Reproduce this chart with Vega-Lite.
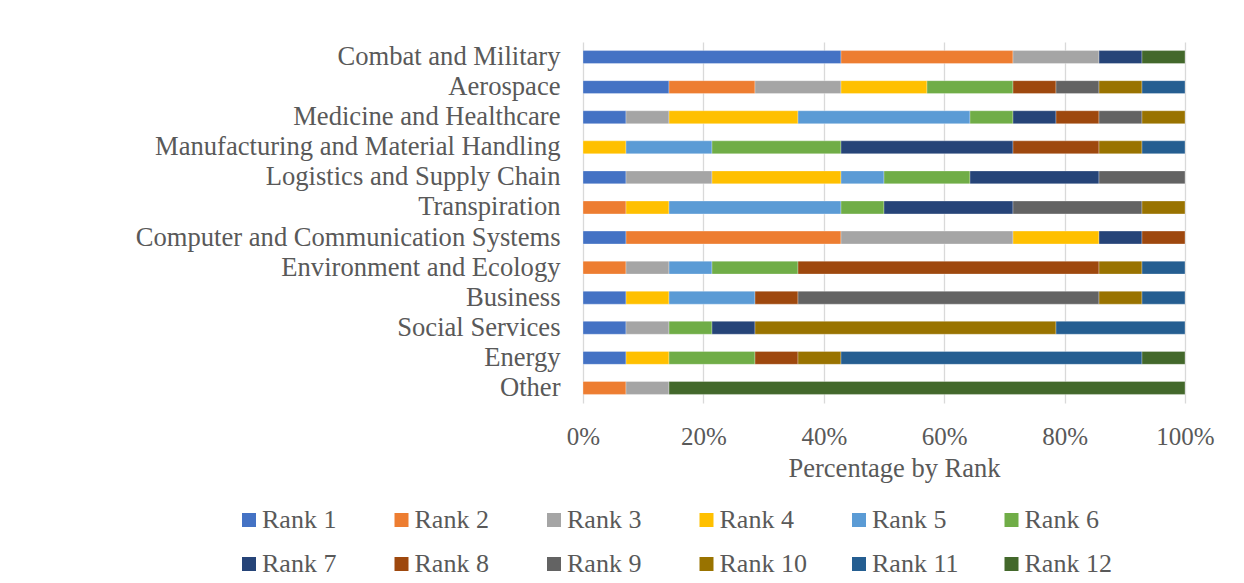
{
  "$schema": "https://vega.github.io/schema/vega-lite/v6.json",
  "width": 602,
  "height": 361,
  "autosize": {"type": "none"},
  "padding": {"left": 583, "top": 42, "right": 59, "bottom": 180},
  "background": "white",
  "config": {
    "font": "Liberation Serif",
    "view": {"stroke": null},
    "axis": {"labelFont": "Liberation Serif", "titleFont": "Liberation Serif"}
  },
  "data": {
    "values": [
      {"c": "Combat and Military", "k": "Rank 1", "r": 1, "n": 6},
      {"c": "Combat and Military", "k": "Rank 2", "r": 2, "n": 4},
      {"c": "Combat and Military", "k": "Rank 3", "r": 3, "n": 2},
      {"c": "Combat and Military", "k": "Rank 7", "r": 7, "n": 1},
      {"c": "Combat and Military", "k": "Rank 12", "r": 12, "n": 1},
      {"c": "Aerospace", "k": "Rank 1", "r": 1, "n": 2},
      {"c": "Aerospace", "k": "Rank 2", "r": 2, "n": 2},
      {"c": "Aerospace", "k": "Rank 3", "r": 3, "n": 2},
      {"c": "Aerospace", "k": "Rank 4", "r": 4, "n": 2},
      {"c": "Aerospace", "k": "Rank 6", "r": 6, "n": 2},
      {"c": "Aerospace", "k": "Rank 8", "r": 8, "n": 1},
      {"c": "Aerospace", "k": "Rank 9", "r": 9, "n": 1},
      {"c": "Aerospace", "k": "Rank 10", "r": 10, "n": 1},
      {"c": "Aerospace", "k": "Rank 11", "r": 11, "n": 1},
      {"c": "Medicine and Healthcare", "k": "Rank 1", "r": 1, "n": 1},
      {"c": "Medicine and Healthcare", "k": "Rank 3", "r": 3, "n": 1},
      {"c": "Medicine and Healthcare", "k": "Rank 4", "r": 4, "n": 3},
      {"c": "Medicine and Healthcare", "k": "Rank 5", "r": 5, "n": 4},
      {"c": "Medicine and Healthcare", "k": "Rank 6", "r": 6, "n": 1},
      {"c": "Medicine and Healthcare", "k": "Rank 7", "r": 7, "n": 1},
      {"c": "Medicine and Healthcare", "k": "Rank 8", "r": 8, "n": 1},
      {"c": "Medicine and Healthcare", "k": "Rank 9", "r": 9, "n": 1},
      {"c": "Medicine and Healthcare", "k": "Rank 10", "r": 10, "n": 1},
      {"c": "Manufacturing and Material Handling", "k": "Rank 4", "r": 4, "n": 1},
      {"c": "Manufacturing and Material Handling", "k": "Rank 5", "r": 5, "n": 2},
      {"c": "Manufacturing and Material Handling", "k": "Rank 6", "r": 6, "n": 3},
      {"c": "Manufacturing and Material Handling", "k": "Rank 7", "r": 7, "n": 4},
      {"c": "Manufacturing and Material Handling", "k": "Rank 8", "r": 8, "n": 2},
      {"c": "Manufacturing and Material Handling", "k": "Rank 10", "r": 10, "n": 1},
      {"c": "Manufacturing and Material Handling", "k": "Rank 11", "r": 11, "n": 1},
      {"c": "Logistics and Supply Chain", "k": "Rank 1", "r": 1, "n": 1},
      {"c": "Logistics and Supply Chain", "k": "Rank 3", "r": 3, "n": 2},
      {"c": "Logistics and Supply Chain", "k": "Rank 4", "r": 4, "n": 3},
      {"c": "Logistics and Supply Chain", "k": "Rank 5", "r": 5, "n": 1},
      {"c": "Logistics and Supply Chain", "k": "Rank 6", "r": 6, "n": 2},
      {"c": "Logistics and Supply Chain", "k": "Rank 7", "r": 7, "n": 3},
      {"c": "Logistics and Supply Chain", "k": "Rank 9", "r": 9, "n": 2},
      {"c": "Transpiration", "k": "Rank 2", "r": 2, "n": 1},
      {"c": "Transpiration", "k": "Rank 4", "r": 4, "n": 1},
      {"c": "Transpiration", "k": "Rank 5", "r": 5, "n": 4},
      {"c": "Transpiration", "k": "Rank 6", "r": 6, "n": 1},
      {"c": "Transpiration", "k": "Rank 7", "r": 7, "n": 3},
      {"c": "Transpiration", "k": "Rank 9", "r": 9, "n": 3},
      {"c": "Transpiration", "k": "Rank 10", "r": 10, "n": 1},
      {"c": "Computer and Communication Systems", "k": "Rank 1", "r": 1, "n": 1},
      {"c": "Computer and Communication Systems", "k": "Rank 2", "r": 2, "n": 5},
      {"c": "Computer and Communication Systems", "k": "Rank 3", "r": 3, "n": 4},
      {"c": "Computer and Communication Systems", "k": "Rank 4", "r": 4, "n": 2},
      {"c": "Computer and Communication Systems", "k": "Rank 7", "r": 7, "n": 1},
      {"c": "Computer and Communication Systems", "k": "Rank 8", "r": 8, "n": 1},
      {"c": "Environment and Ecology", "k": "Rank 2", "r": 2, "n": 1},
      {"c": "Environment and Ecology", "k": "Rank 3", "r": 3, "n": 1},
      {"c": "Environment and Ecology", "k": "Rank 5", "r": 5, "n": 1},
      {"c": "Environment and Ecology", "k": "Rank 6", "r": 6, "n": 2},
      {"c": "Environment and Ecology", "k": "Rank 8", "r": 8, "n": 7},
      {"c": "Environment and Ecology", "k": "Rank 10", "r": 10, "n": 1},
      {"c": "Environment and Ecology", "k": "Rank 11", "r": 11, "n": 1},
      {"c": "Business", "k": "Rank 1", "r": 1, "n": 1},
      {"c": "Business", "k": "Rank 4", "r": 4, "n": 1},
      {"c": "Business", "k": "Rank 5", "r": 5, "n": 2},
      {"c": "Business", "k": "Rank 8", "r": 8, "n": 1},
      {"c": "Business", "k": "Rank 9", "r": 9, "n": 7},
      {"c": "Business", "k": "Rank 10", "r": 10, "n": 1},
      {"c": "Business", "k": "Rank 11", "r": 11, "n": 1},
      {"c": "Social Services", "k": "Rank 1", "r": 1, "n": 1},
      {"c": "Social Services", "k": "Rank 3", "r": 3, "n": 1},
      {"c": "Social Services", "k": "Rank 6", "r": 6, "n": 1},
      {"c": "Social Services", "k": "Rank 7", "r": 7, "n": 1},
      {"c": "Social Services", "k": "Rank 10", "r": 10, "n": 7},
      {"c": "Social Services", "k": "Rank 11", "r": 11, "n": 3},
      {"c": "Energy", "k": "Rank 1", "r": 1, "n": 1},
      {"c": "Energy", "k": "Rank 4", "r": 4, "n": 1},
      {"c": "Energy", "k": "Rank 6", "r": 6, "n": 2},
      {"c": "Energy", "k": "Rank 8", "r": 8, "n": 1},
      {"c": "Energy", "k": "Rank 10", "r": 10, "n": 1},
      {"c": "Energy", "k": "Rank 11", "r": 11, "n": 7},
      {"c": "Energy", "k": "Rank 12", "r": 12, "n": 1},
      {"c": "Other", "k": "Rank 2", "r": 2, "n": 1},
      {"c": "Other", "k": "Rank 3", "r": 3, "n": 1},
      {"c": "Other", "k": "Rank 12", "r": 12, "n": 12}
    ]
  },
  "mark": {"type": "bar", "stroke": "white", "strokeWidth": 0.5, "strokeOpacity": 0.6},
  "encoding": {
    "y": {
      "field": "c",
      "type": "nominal",
      "sort": ["Combat and Military", "Aerospace", "Medicine and Healthcare", "Manufacturing and Material Handling", "Logistics and Supply Chain", "Transpiration", "Computer and Communication Systems", "Environment and Ecology", "Business", "Social Services", "Energy", "Other"],
      "scale": {"paddingInner": 0.57, "paddingOuter": 0.285},
      "axis": {
        "title": null,
        "ticks": false,
        "domain": false,
        "labelFontSize": 26.6,
        "labelColor": "#595959",
        "labelPadding": 23,
        "labelLimit": 0
      }
    },
    "x": {
      "field": "n",
      "type": "quantitative",
      "stack": "normalize",
      "scale": {"domain": [0, 1]},
      "axis": {
        "title": "Percentage by Rank",
        "format": ".0%",
        "values": [0, 0.2, 0.4, 0.6, 0.8, 1],
        "grid": true,
        "gridColor": "#d9d9d9",
        "gridWidth": 1.3,
        "domain": false,
        "ticks": false,
        "labelFontSize": 25,
        "labelColor": "#595959",
        "labelPadding": 21,
        "labelFlush": false,
        "titleFontSize": 26.5,
        "titleFontWeight": "normal",
        "titleColor": "#595959",
        "titlePadding": 6,
        "titleX": 311,
        "titleAlign": "center",
        "titleAnchor": null
      }
    },
    "color": {
      "field": "k",
      "type": "nominal",
      "scale": {
        "domain": ["Rank 1", "Rank 2", "Rank 3", "Rank 4", "Rank 5", "Rank 6", "Rank 7", "Rank 8", "Rank 9", "Rank 10", "Rank 11", "Rank 12"],
        "range": ["#4472C4", "#ED7D31", "#A5A5A5", "#FFC000", "#5B9BD5", "#70AD47", "#264478", "#9E480E", "#636363", "#997300", "#255E91", "#43682B"]
      },
      "legend": {
        "title": null,
        "orient": "none",
        "legendX": -347,
        "legendY": 465,
        "direction": "horizontal",
        "columns": 6,
        "gridAlign": "all",
        "symbolType": "square",
        "symbolSize": 196,
        "symbolStrokeWidth": 0,
        "labelFont": "Liberation Serif",
        "labelFontSize": 26,
        "labelColor": "#595959",
        "labelOffset": 0,
        "labelLimit": 0,
        "columnPadding": 38.5,
        "rowPadding": 18
      }
    },
    "order": {"field": "r", "type": "quantitative"}
  }
}
